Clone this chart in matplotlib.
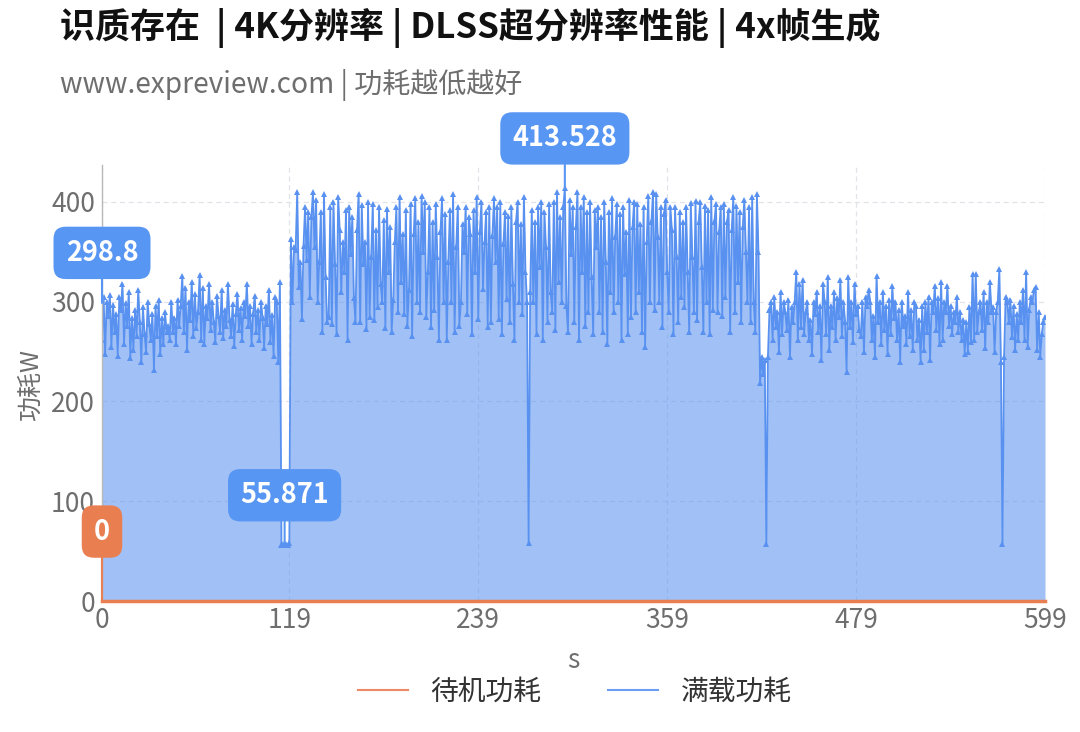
import matplotlib
matplotlib.use('Agg')
import matplotlib.pyplot as plt
from matplotlib.lines import Line2D

plt.rcParams['font.family'] = ['Noto Sans CJK SC', 'DejaVu Sans']

title = '识质存在  | 4K分辨率 | DLSS超分辨率性能 | 4x帧生成'
subtitle = 'www.expreview.com | 功耗越低越好'
series_names = ['待机功耗', '满载功耗']
x_ticks = [0, 119, 239, 359, 479, 599]
y_ticks = [0, 100, 200, 300, 400]

seconds = list(range(600))

load_part1 = [
    262, 305, 248, 300, 286, 307, 255, 297, 270, 288,
    246, 305, 292, 318, 258, 299, 276, 310, 244, 284,
    252, 292, 266, 312, 280, 240, 295, 268, 250, 300,
    278, 262, 288, 232, 296, 266, 302, 248, 284, 258,
    290, 270, 276, 262, 300, 270, 284, 258, 302, 276,
    296, 326, 270, 314, 252, 300, 282, 320, 266, 308,
    274, 290, 327, 262, 314, 258, 296, 284, 318, 272,
    300, 280, 260, 306, 286, 270, 312, 264, 292, 276,
    318, 282, 266, 298, 256, 288, 308, 272, 294, 262,
    300, 286, 318, 276, 296, 258, 288, 306, 270, 292,
    262, 300, 284, 254, 296, 278, 312, 260, 287, 246,
    305, 300, 240, 320,
]
load_dip = [56, 57, 55.871, 57, 56, 58]
load_part2 = [
    363, 300, 355, 352, 410, 315, 340, 283, 356, 395,
    342, 390, 305, 385, 410, 355, 402, 300, 340, 390,
    270, 408, 325, 280, 285, 395, 278, 400, 338, 268,
    405, 372, 310, 360, 330, 392, 262, 395, 348, 385,
    304, 280, 372, 408, 280, 397, 338, 360, 273, 400,
    285, 345, 398, 282, 372, 295, 395, 318, 300, 382,
    274, 393, 330, 375, 270, 302, 360, 395, 290, 405,
    320, 368, 288, 392, 276, 312, 398, 266, 368, 404,
    300, 380, 290, 406, 350, 400, 285, 330, 395, 275,
    380, 292, 398, 345, 262, 370, 404, 300, 388, 262,
    340, 392, 300, 408, 270, 355, 395, 276, 300, 378,
    350, 395, 288, 385, 368, 268, 392, 330, 405, 283,
    370, 400, 313, 360, 390, 275, 395, 280, 366, 404,
    340, 395, 283, 400, 268, 358, 390, 303, 386, 280,
    395, 318, 262, 380, 400, 300, 378, 288, 405, 330,
    300, 58, 310, 392, 300, 380, 268, 395, 335, 400,
    262, 390, 355, 280, 398, 310, 290, 400, 272, 410,
    320, 385, 300, 395, 413.528, 296, 270, 402, 348, 395,
    280, 375, 410, 262, 395, 330, 405, 276, 390, 290,
    400, 325, 268, 392, 355, 395, 290, 385, 270, 400,
    340, 258, 390, 310, 404, 290, 365, 398, 300, 388,
    262, 395, 328, 370, 268, 402, 285, 375, 400, 290,
    398, 310, 378, 270, 395, 255, 360, 406, 300, 380,
    410, 292, 408, 365, 300, 395, 275, 388, 402, 330,
    290, 395, 372, 268, 395, 345, 280, 390, 305, 380,
    295, 395, 330, 270, 399, 345, 290, 401, 282, 380,
    400, 335, 270, 396, 300, 392, 268, 405, 292, 380,
    398, 290, 370, 395, 286, 398, 305, 380, 392, 270,
    372, 405, 290, 396, 320, 390, 280, 375, 402, 350,
    300, 395, 280, 405, 300, 270, 408, 350, 218, 245,
]
load_part3 = [
    228, 242, 57, 245, 292, 300, 262, 305, 275, 290,
    250, 310, 268, 300, 290, 272, 302, 245, 295, 280,
    300, 330, 262, 318, 275, 322, 268, 290, 300, 262,
    282, 248, 300, 288, 310, 270, 296, 242, 318, 300,
    268, 325, 252, 296, 275, 310, 262, 304, 285, 322,
    266, 300, 280, 230, 325, 275, 300, 260, 318, 288,
    296, 272, 266, 300, 250, 305, 296, 312, 300, 262,
    286, 245, 326, 280, 300, 258, 310, 272, 296, 248,
    302, 268, 316, 284, 300, 262, 292, 240, 300, 276,
    286, 258, 310, 266, 292, 252, 300, 296, 262, 282,
    240, 296, 252, 300, 270, 305, 242, 300, 290, 316,
    272, 304, 258, 320, 262, 300, 290, 316, 276, 296,
    268, 290, 280, 305, 270, 290, 262, 282, 248, 280,
    250, 295, 260, 328, 262, 328, 270, 290, 300, 272,
    310, 254, 300, 280, 320, 290, 295, 250, 290, 300,
    333, 240, 57, 245, 305, 300, 280, 302, 265, 296,
    252, 288, 262, 300, 280, 312, 262, 330, 255, 292,
    305, 300, 312, 315, 252, 290, 245, 268, 280, 285,
]
full_load = load_part1 + load_dip + load_part2 + load_part3
standby = [0] * len(seconds)
average_label = 298.8

BLUE = '#5891f0'
BLUE_BOX = '#5896f3'
ORANGE = '#e97e50'
GRAY = '#6e6e6e'

fig = plt.figure(figsize=(10.8, 7.32), dpi=100)
ax = fig.add_axes([102 / 1080, 1 - 601 / 732, 943 / 1080, 436 / 732])

ax.set_xlim(0, 599)
ax.set_ylim(0, 437)

ax.grid(True, color='#e0e3ea', linestyle=(0, (4, 3)), linewidth=0.9, zorder=0)
ax.set_axisbelow(True)

ax.fill_between(seconds, full_load, 0, color=BLUE, alpha=0.56, linewidth=0, zorder=1)
ax.plot(seconds, full_load, color=BLUE, linewidth=1.3, marker='^', markersize=4.5,
        markeredgewidth=0, zorder=2)
ax.plot(seconds, standby, color=ORANGE, linewidth=2.5, zorder=3, clip_on=False)

ax.set_xticks(x_ticks)
ax.set_yticks(y_ticks)
ax.tick_params(axis='both', length=0, labelsize=19, labelcolor=GRAY)
ax.tick_params(axis='y', pad=5)
ax.tick_params(axis='x', pad=4)

for side in ['top', 'right', 'bottom']:
    ax.spines[side].set_visible(False)
ax.spines['left'].set_color('#b8b8b8')
ax.spines['left'].set_linewidth(1.0)

ax.set_ylabel('功耗W', fontsize=18, color=GRAY)
ax.yaxis.set_label_coords(-0.062, 0.495)
ax.set_xlabel('s', fontsize=19, color=GRAY)
ax.xaxis.set_label_coords(0.4995, -0.105)

def pin(text, xi, yv, color, off):
    ax.annotate(text, xy=(xi, yv), xytext=(0, off), textcoords='offset points',
                ha='center', va='center', fontsize=19.5, fontweight='bold', color='white',
                bbox=dict(boxstyle='round,pad=0.45,rounding_size=0.45', fc=color, ec='none'),
                arrowprops=dict(arrowstyle='-', color=color, lw=1.5, shrinkA=0, shrinkB=0),
                annotation_clip=False, zorder=6)

imax = max(range(len(full_load)), key=lambda i: full_load[i])
imin = min(range(len(full_load)), key=lambda i: full_load[i])
pin(f'{full_load[imax]:g}', imax, full_load[imax], BLUE_BOX, 36)
pin(f'{full_load[imin]:g}', imin, full_load[imin], BLUE_BOX, 36)
pin(f'{average_label:g}', 0, average_label, BLUE_BOX, 36)
pin(f'{standby[0]:g}', 0, standby[0], ORANGE, 50)

fig.text(60 / 1080, 1 - 28 / 732, title, fontsize=25.2, fontweight='bold', color='#111111',
         va='center', ha='left')
fig.text(60 / 1080, 1 - 85 / 732, subtitle, fontsize=20.2, color=GRAY, va='center', ha='left')

handles = [Line2D([], [], color='#ee8a63', lw=1.5), Line2D([], [], color='#6a9ff5', lw=1.5)]
fig.legend(handles, series_names, loc='center', bbox_to_anchor=(575 / 1080, 1 - 692 / 732),
           ncol=2, frameon=False, fontsize=20, handlelength=1.8, handletextpad=0.8,
           columnspacing=2.4, labelcolor='#333333')

fig.savefig('out.png', dpi=100, facecolor='white')
